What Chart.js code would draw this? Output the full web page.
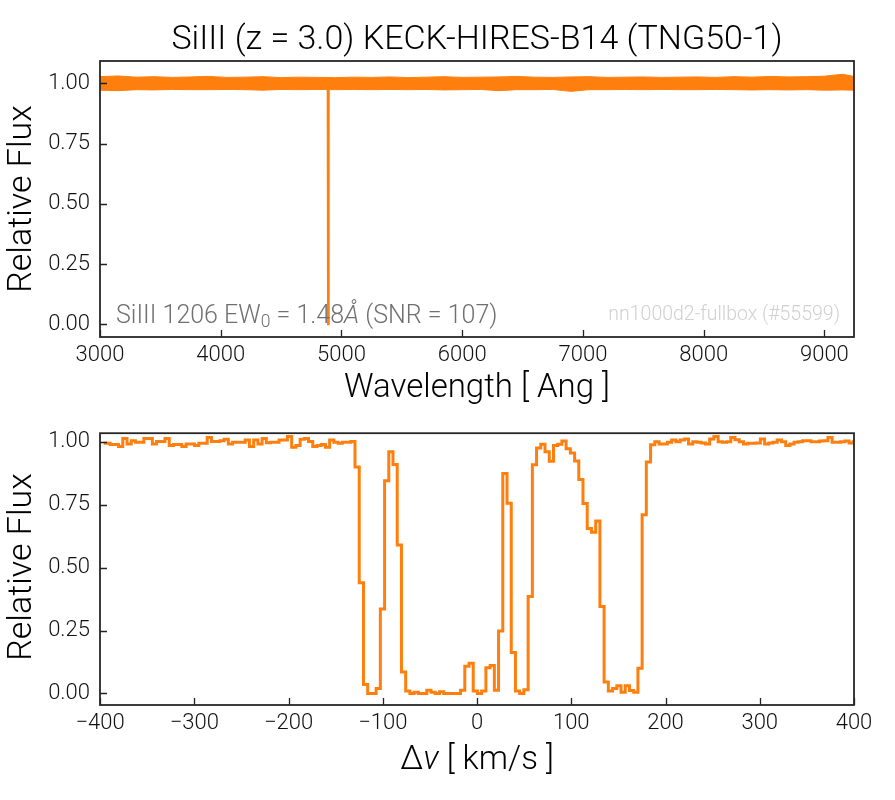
<!DOCTYPE html>
<html lang="en">
<head>
<meta charset="UTF-8">
<title>SiIII (z = 3.0) KECK-HIRES-B14 (TNG50-1)</title>
<script src="https://cdn.jsdelivr.net/npm/chart.js"></script>
<style>
  body { margin: 0; background: #fff; }
  #wrap { position: relative; width: 895px; height: 800px; }
  canvas { position: absolute; left: 0; }
  #topChart { top: 0; }
  #botChart { top: 410px; }
</style>
</head>
<body>
<div id="wrap">
  <canvas id="topChart" width="895" height="410"></canvas>
  <canvas id="botChart" width="895" height="390"></canvas>
</div>
<script>
// ---- top panel: full spectrum (noise band read as upper / lower envelope) ----
const wlEnv = [3000, 3150, 3300, 3450, 3600, 3750, 3900, 4050, 4200, 4350, 4500, 4650, 4800, 4950,
  5100, 5250, 5400, 5550, 5700, 5850, 6000, 6150, 6300, 6450, 6600, 6750, 6900, 7050, 7200,
  7350, 7500, 7650, 7800, 7950, 8100, 8250, 8400, 8550, 8700, 8850, 9000, 9150, 9245];
const fluxUpper = [1.028, 1.031, 1.026, 1.028, 1.025, 1.027, 1.029, 1.025, 1.026, 1.028, 1.024, 1.026, 1.025, 1.024,
  1.026, 1.025, 1.027, 1.024, 1.026, 1.028, 1.025, 1.026, 1.027, 1.029, 1.026, 1.025, 1.027, 1.028, 1.025,
  1.026, 1.027, 1.025, 1.026, 1.027, 1.025, 1.028, 1.026, 1.029, 1.027, 1.028, 1.030, 1.038, 1.029];
const fluxLower = [0.972, 0.970, 0.974, 0.973, 0.975, 0.974, 0.974, 0.975, 0.974, 0.972, 0.975, 0.974, 0.975, 0.974,
  0.975, 0.974, 0.975, 0.974, 0.975, 0.973, 0.974, 0.975, 0.970, 0.974, 0.974, 0.975, 0.967, 0.974, 0.974,
  0.975, 0.974, 0.975, 0.974, 0.974, 0.975, 0.974, 0.973, 0.974, 0.973, 0.974, 0.972, 0.973, 0.972];
// the SiIII 1206 absorption line
const wlLine = [4884, 4887, 4893, 4896];
const fluxLine = [0.975, 0.0, 0.0, 0.975];

const wlTicks = [3000, 4000, 5000, 6000, 7000, 8000, 9000];
const wlTickLabels = ['3000', '4000', '5000', '6000', '7000', '8000', '9000'];

// ---- bottom panel: velocity window around the line (steps-mid) ----
const vel = [-396.0, -391.5, -387.0, -382.6, -378.1, -373.6, -369.1, -364.6, -360.2, -355.7,
  -351.2, -346.7, -342.2, -337.8, -333.3, -328.8, -324.3, -319.8, -315.4, -310.9,
  -306.4, -301.9, -297.4, -293.0, -288.5, -284.0, -279.5, -275.0, -270.6, -266.1,
  -261.6, -257.1, -252.6, -248.2, -243.7, -239.2, -234.7, -230.2, -225.8, -221.3,
  -216.8, -212.3, -207.8, -203.4, -198.9, -194.4, -189.9, -185.4, -181.0, -176.5,
  -172.0, -167.5, -163.0, -158.6, -154.1, -149.6, -145.1, -140.6, -136.2, -131.7,
  -127.2, -122.7, -118.2, -113.8, -109.3, -104.8, -100.3, -95.8, -91.4, -86.9,
  -82.4, -77.9, -73.4, -69.0, -64.5, -60.0, -55.5, -51.0, -46.6, -42.1,
  -37.6, -33.1, -28.6, -24.2, -19.7, -15.2, -10.7, -6.2, -1.8, 2.7,
  7.2, 11.7, 16.2, 20.6, 25.1, 29.6, 34.1, 38.6, 43.0, 47.5,
  52.0, 56.5, 61.0, 65.4, 69.9, 74.4, 78.9, 83.4, 87.8, 92.3,
  96.8, 101.3, 105.8, 110.2, 114.7, 119.2, 123.7, 128.2, 132.6, 137.1,
  141.6, 146.1, 150.6, 155.0, 159.5, 164.0, 168.5, 173.0, 177.4, 181.9,
  186.4, 190.9, 195.4, 199.8, 204.3, 208.8, 213.3, 217.8, 222.2, 226.7,
  231.2, 235.7, 240.2, 244.6, 249.1, 253.6, 258.1, 262.6, 267.0, 271.5,
  276.0, 280.5, 285.0, 289.4, 293.9, 298.4, 302.9, 307.4, 311.8, 316.3,
  320.8, 325.3, 329.8, 334.2, 338.7, 343.2, 347.7, 352.2, 356.6, 361.1,
  365.6, 370.1, 374.6, 379.0, 383.5, 388.0, 392.5, 397.0, 401.4];
const fluxVel = [0.994, 0.994, 0.989, 0.989, 0.981, 1.013, 0.991, 1.004, 0.998, 0.998,
  1.013, 1.013, 0.991, 1.001, 1.001, 1.013, 0.985, 0.989, 0.989, 0.981,
  0.991, 0.991, 0.985, 0.994, 0.994, 1.017, 1.001, 1.001, 1.004, 1.010,
  0.991, 0.998, 0.998, 0.998, 1.007, 0.981, 1.007, 0.991, 1.013, 0.996,
  0.998, 0.998, 1.007, 1.007, 1.021, 0.978, 0.985, 1.010, 1.013, 1.001,
  0.981, 0.985, 0.989, 0.978, 1.007, 0.998, 0.994, 0.998, 0.998, 1.001,
  0.900, 0.440, 0.035, 0.000, 0.000, 0.020, 0.335, 0.845, 0.960, 0.910,
  0.590, 0.085, 0.010, 0.000, 0.005, 0.000, 0.000, 0.013, 0.005, 0.000,
  0.007, 0.000, 0.000, 0.000, 0.000, 0.013, 0.108, 0.120, 0.010, 0.000,
  0.010, 0.102, 0.111, 0.013, 0.248, 0.874, 0.756, 0.163, 0.010, 0.000,
  0.015, 0.385, 0.909, 0.975, 0.990, 0.960, 0.923, 0.985, 0.990, 1.003,
  0.972, 0.955, 0.924, 0.850, 0.755, 0.655, 0.640, 0.685, 0.345, 0.045,
  0.010, 0.020, 0.030, 0.005, 0.030, 0.012, 0.005, 0.100, 0.710, 0.920,
  0.988, 1.000, 0.991, 0.991, 0.998, 1.007, 1.000, 1.007, 1.011, 0.991,
  1.000, 0.998, 0.995, 0.991, 1.011, 1.021, 1.000, 0.998, 1.000, 1.017,
  1.008, 1.000, 0.991, 0.994, 0.994, 0.995, 1.011, 0.991, 0.995, 0.998,
  1.007, 1.000, 0.985, 0.991, 0.998, 1.000, 1.004, 1.004, 1.000, 1.000,
  1.003, 1.004, 1.017, 0.998, 0.998, 1.000, 1.003, 0.995, 1.000];

const velTicks = [-400, -300, -200, -100, 0, 100, 200, 300, 400];
const velTickLabels = ['\u2212400', '\u2212300', '\u2212200', '\u2212100', '0', '100', '200', '300', '400'];

const fluxTicks = [0, 0.25, 0.5, 0.75, 1.0];
const fluxTickLabels = ['0.00', '0.25', '0.50', '0.75', '1.00'];

const FAMILY = 'Roboto, "DejaVu Sans", sans-serif';
const ORANGE = '#ff7f0e';

function fontStr(p, size) {
  const s = p.sub ? size * 0.7 : size;
  return (p.italic ? 'italic ' : '') + '300 ' + s + 'px ' + FAMILY;
}

// draw a line of text made of parts (for italic / subscript pieces)
function drawParts(ctx, t) {
  const parts = typeof t.text === 'string' ? [{ t: t.text }] : t.text;
  ctx.save();
  ctx.fillStyle = t.color || '#000';
  ctx.textBaseline = 'middle';
  ctx.textAlign = 'left';
  ctx.translate(t.x, t.y);
  if (t.rotate) ctx.rotate(t.rotate);
  const widths = parts.map(p => { ctx.font = fontStr(p, t.size); return ctx.measureText(p.t).width; });
  const total = widths.reduce((a, b) => a + b, 0);
  let cx = t.align === 'center' ? -total / 2 : t.align === 'right' ? -total : 0;
  parts.forEach((p, i) => {
    ctx.font = fontStr(p, t.size);
    ctx.fillText(p.t, cx, p.sub ? t.size * 0.22 : 0);
    cx += widths[i];
  });
  ctx.restore();
}

// frame with inward ticks plus free text
const framePlugin = {
  id: 'frame',
  afterDraw(chart, args, opts) {
    const { ctx, chartArea: a, scales } = chart;
    ctx.save();
    ctx.strokeStyle = '#222';
    ctx.lineWidth = 1.3;
    ctx.beginPath();
    scales.x.ticks.forEach(t => {
      const px = Math.round(scales.x.getPixelForValue(t.value)) + 0.5;
      ctx.moveTo(px, a.bottom); ctx.lineTo(px, a.bottom - 7);
    });
    scales.y.ticks.forEach(t => {
      const py = Math.round(scales.y.getPixelForValue(t.value)) + 0.5;
      ctx.moveTo(a.left, py); ctx.lineTo(a.left + 7, py);
    });
    ctx.stroke();
    ctx.lineWidth = 1.8;
    ctx.strokeStyle = '#262626';
    ctx.strokeRect(a.left, a.top, a.right - a.left, a.bottom - a.top);
    ctx.restore();
    (opts.texts || []).forEach(t => drawParts(ctx, t));
  }
};

function makeScales(xMin, xMax, xTicks, xLabels, yMin, yMax, xHeight) {
  return {
    x: {
      type: 'linear', min: xMin, max: xMax,
      afterFit: s => { s.height = xHeight; },
      afterBuildTicks: s => { s.ticks = xTicks.map(v => ({ value: v })); },
      grid: { display: false, drawTicks: false },
      border: { display: false },
      ticks: {
        autoSkip: false, maxRotation: 0, padding: 5, color: '#111',
        font: { family: FAMILY, size: 22, weight: 300 },
        callback: (v, i) => xLabels[i]
      }
    },
    y: {
      type: 'linear', min: yMin, max: yMax,
      afterFit: s => { s.width = 100; },
      afterBuildTicks: s => { s.ticks = fluxTicks.map(v => ({ value: v })); },
      grid: { display: false, drawTicks: false },
      border: { display: false },
      ticks: {
        autoSkip: false, padding: 10, color: '#111',
        font: { family: FAMILY, size: 22, weight: 300 },
        callback: (v, i) => fluxTickLabels[i]
      }
    }
  };
}

const commonPlugins = { legend: { display: false }, tooltip: { enabled: false } };

new Chart(document.getElementById('topChart'), {
  type: 'line',
  data: {
    datasets: [
      {
        data: wlEnv.map((w, i) => ({ x: w, y: fluxUpper[i] })),
        borderColor: ORANGE, backgroundColor: ORANGE, borderWidth: 1,
        pointRadius: 0, fill: '+1', tension: 0
      },
      {
        data: wlEnv.map((w, i) => ({ x: w, y: fluxLower[i] })),
        borderColor: ORANGE, borderWidth: 1, pointRadius: 0, fill: false, tension: 0
      },
      {
        data: wlLine.map((w, i) => ({ x: w, y: fluxLine[i] })),
        borderColor: ORANGE, borderWidth: 1.6, pointRadius: 0, fill: false, tension: 0
      }
    ]
  },
  options: {
    responsive: false, animation: false,
    layout: { padding: { top: 61, right: 41, left: 0, bottom: 0 } },
    scales: makeScales(3000, 9245, wlTicks, wlTickLabels, -0.052, 1.093, 73),
    plugins: Object.assign({}, commonPlugins, {
      frame: {
        texts: [
          { text: 'SiIII (z = 3.0) KECK-HIRES-B14 (TNG50-1)', x: 477, y: 40, size: 34, align: 'center' },
          { text: 'Relative Flux', x: 22, y: 199, size: 34, align: 'center', rotate: -Math.PI / 2 },
          { text: 'Wavelength [ Ang ]', x: 477, y: 389, size: 33, align: 'center' },
          { text: [{ t: 'SiIII 1206 EW' }, { t: '0', sub: true }, { t: ' = 1.48' }, { t: '\u00c5', italic: true }, { t: ' (SNR = 107)' }],
            x: 116, y: 317, size: 25, color: '#707070', align: 'left' },
          { text: 'nn1000d2-fullbox (#55599)', x: 840, y: 315, size: 19.5, color: '#d0d0d0', align: 'right' }
        ]
      }
    })
  },
  plugins: [framePlugin]
});

new Chart(document.getElementById('botChart'), {
  type: 'line',
  data: {
    datasets: [{
      data: vel.map((v, i) => ({ x: v, y: fluxVel[i] })),
      borderColor: ORANGE, borderWidth: 3, pointRadius: 0,
      stepped: 'middle', fill: false
    }]
  },
  options: {
    responsive: false, animation: false,
    layout: { padding: { top: 19, right: 41, left: 0, bottom: 0 } },
    scales: makeScales(-400, 400, velTicks, velTickLabels, -0.046, 1.034, 95),
    plugins: Object.assign({}, commonPlugins, {
      frame: {
        texts: [
          { text: 'Relative Flux', x: 22, y: 157, size: 34, align: 'center', rotate: -Math.PI / 2 },
          { text: [{ t: '\u0394' }, { t: 'v', italic: true }, { t: ' [ km/s ]' }], x: 477, y: 351, size: 33, align: 'center' }
        ]
      }
    })
  },
  plugins: [framePlugin]
});
</script>
</body>
</html>
